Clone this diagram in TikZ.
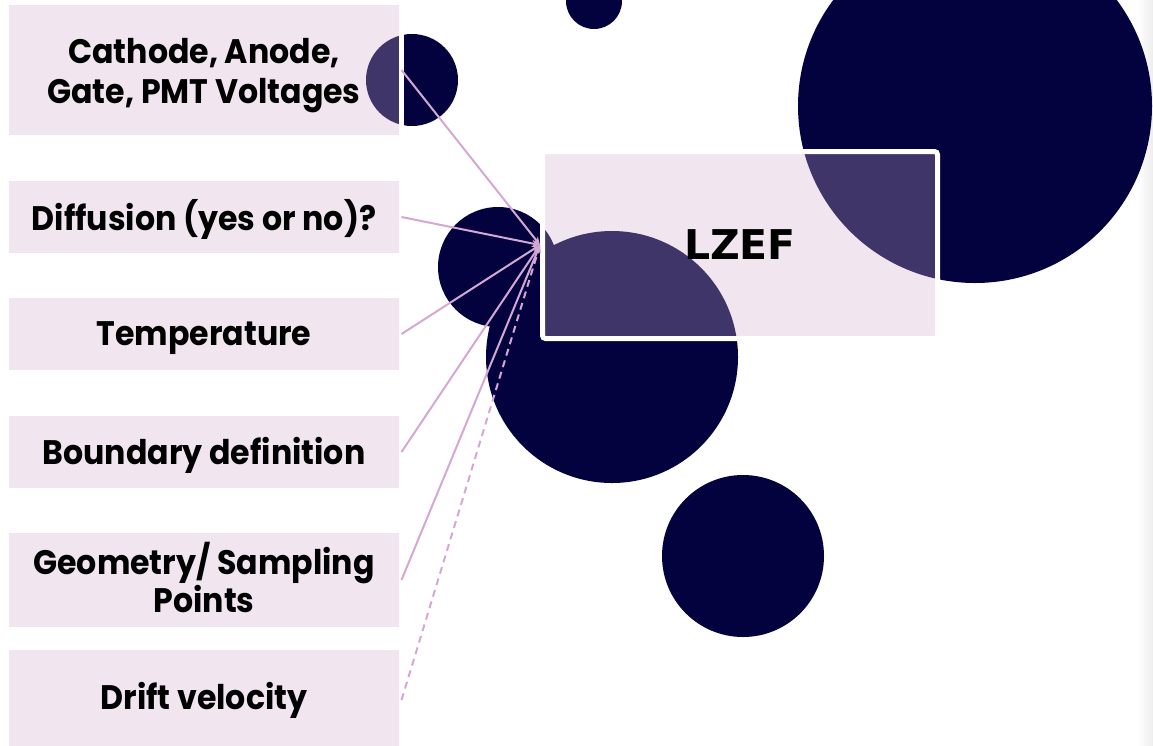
\documentclass[tikz,border=0pt]{standalone}
\usepackage{fontspec}
\setmainfont{Poppins}[UprightFont=* Bold,BoldFont=* Bold,FakeStretch=0.93]
\newfontfamily\lzfont{DejaVu Sans Bold}
\usetikzlibrary{arrows.meta}
\definecolor{navy}{RGB}{3,2,63}
\definecolor{boxpink}{RGB}{208,171,205}
\definecolor{linkpink}{RGB}{213,168,212}
\newcommand{\shifttext}[2]{\raisebox{#1}[\height][\depth]{#2}}
\newcommand{\shiftlines}[2]{\raisebox{#1}[\height][\depth]{\parbox{390pt}{\centering #2}}}
\tikzset{
  inbox/.style={draw=white, line width=5pt, fill=boxpink, fill opacity=0.3,
    draw opacity=1, text opacity=1, minimum width=395pt, inner sep=0pt,
    outer sep=0pt, align=center, font=\fontsize{34}{40}\selectfont},
  mainbox/.style={draw=white, line width=5pt, fill=boxpink, fill opacity=0.3,
    draw opacity=1, text opacity=1, minimum width=395pt, minimum height=187pt,
    rounded corners=3pt, inner sep=0pt, outer sep=2.5pt,
    font=\lzfont\fontsize{41}{48}\selectfont},
  link/.style={draw=linkpink, line width=2pt, -{Stealth[length=8pt,width=7pt]}},
  dashedlink/.style={link, dash pattern=on 7pt off 5pt},
  dot/.style={fill=navy}
}
\begin{document}
\begin{tikzpicture}[x=1pt,y=-1pt]
\useasboundingbox (0,0) rectangle (1153,745);
\shade[left color=white, right color=black!7] (1138,0) rectangle (1153,745);
% circles
\fill[dot] (594,1) circle (28);
\fill[dot] (975,106) circle (177);
\fill[dot] (412,80) circle (46);
\fill[dot] (498,267) circle (60);
\fill[dot] (612,357) circle (126);
\fill[dot] (743,556) circle (81);
% boxes
\node[inbox, minimum height=135pt] (volt) at (204,70) {\shiftlines{-6pt}{Cathode, Anode,\\Gate, PMT Voltages}};
\node[inbox, minimum height=77pt] (diff) at (204,217) {\shifttext{-2pt}{Diffusion (yes or no)?}};
\node[inbox, minimum height=77pt] (temp) at (204,334) {\shifttext{-4pt}{Temperature}};
\node[inbox, minimum height=77pt] (bound) at (204,452) {\shifttext{-3pt}{Boundary definition}};
\node[inbox, minimum height=99pt, font=\fontsize{34}{38}\selectfont] (geom) at (204,580) {\shiftlines{3pt}{Geometry/ Sampling\\Points}};
\node[inbox, minimum height=105pt] (drift) at (204,700) {Drift velocity};
\node[mainbox] (lzef) at (740,245) {LZEF};
% connectors
\draw[link] (volt.east) -- (lzef.west);
\draw[link] (diff.east) -- (lzef.west);
\draw[link] (temp.east) -- (lzef.west);
\draw[link] (bound.east) -- (lzef.west);
\draw[link] (geom.east) -- (lzef.west);
\draw[dashedlink] (drift.east) -- (lzef.west);
\end{tikzpicture}
\end{document}
